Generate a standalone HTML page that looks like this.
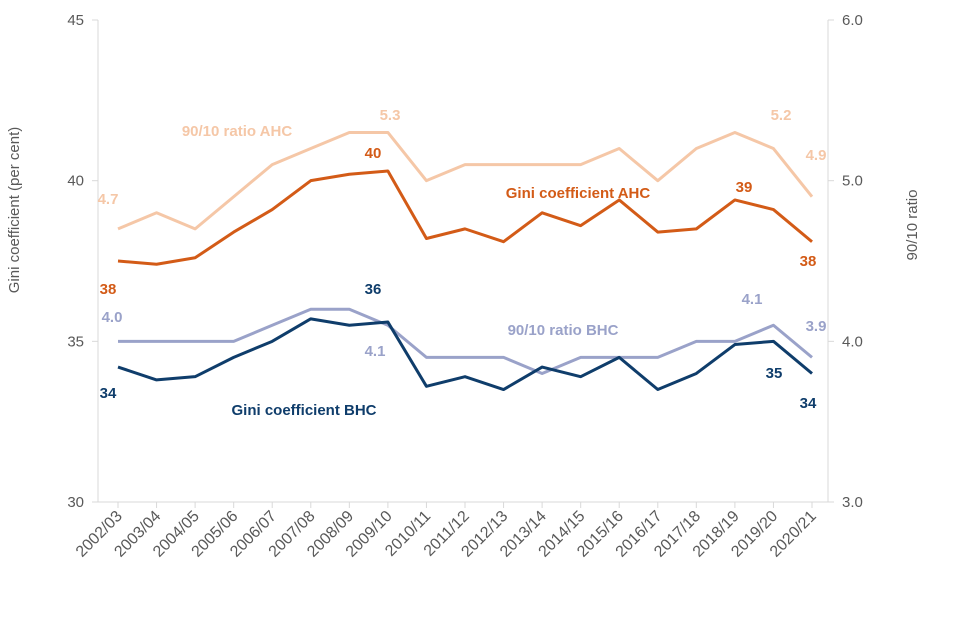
<!DOCTYPE html>
<html><head><meta charset="utf-8"><style>
body{margin:0;background:#fff;}
svg{display:block;font-family:"Liberation Sans",Arial,sans-serif;}
</style></head><body>
<svg id="chart" width="960" height="640"></svg>
<script>
const categories=["2002/03","2003/04","2004/05","2005/06","2006/07","2007/08","2008/09","2009/10","2010/11","2011/12","2012/13","2013/14","2014/15","2015/16","2016/17","2017/18","2018/19","2019/20","2020/21"];
const giniAHC=[37.5,37.4,37.6,38.4,39.1,40.0,40.2,40.3,38.2,38.5,38.1,39.0,38.6,39.4,38.4,38.5,39.4,39.1,38.1];
const giniBHC=[34.2,33.8,33.9,34.5,35.0,35.7,35.5,35.6,33.6,33.9,33.5,34.2,33.9,34.5,33.5,34.0,34.9,35.0,34.0];
const ratioAHC=[4.7,4.8,4.7,4.9,5.1,5.2,5.3,5.3,5.0,5.1,5.1,5.1,5.1,5.2,5.0,5.2,5.3,5.2,4.9];
const ratioBHC=[4.0,4.0,4.0,4.0,4.1,4.2,4.2,4.1,3.9,3.9,3.9,3.8,3.9,3.9,3.9,4.0,4.0,4.1,3.9];
const leftTicks=[30,35,40,45];
const rightTicks=[3.0,4.0,5.0,6.0];

const NS="http://www.w3.org/2000/svg";
const svg=document.getElementById('chart');
const X0=118,X1=812,TOP=20,BOT=502;
const xs=i=>X0+(X1-X0)*i/(categories.length-1);
const yL=v=>BOT-(v-30)/15*(BOT-TOP);
const yR=v=>BOT-(v-3)/3*(BOT-TOP);
function mk(tag,attrs,parent){const e=document.createElementNS(NS,tag);for(const k in attrs)e.setAttribute(k,attrs[k]);(parent||svg).appendChild(e);return e;}
function txt(x,y,s,attrs){const t=mk('text',Object.assign({x:x,y:y},attrs));t.textContent=s;return t;}

const ax=mk('line',{x1:98,y1:TOP,x2:98,y2:BOT,stroke:'#d9d9d9','stroke-width':1});

const ax2=mk('line',{x1:828,y1:TOP,x2:828,y2:BOT,stroke:'#d9d9d9','stroke-width':1});

const ax3=mk('line',{x1:98,y1:BOT,x2:828,y2:BOT,stroke:'#d9d9d9','stroke-width':1});


leftTicks.forEach(v=>{
  mk('line',{x1:92,y1:yL(v),x2:98,y2:yL(v),stroke:'#d9d9d9'});
  const t=txt(84,yL(v)+5,String(v),{'text-anchor':'end','font-size':15,fill:'#595959'});
  
});
rightTicks.forEach(v=>{
  mk('line',{x1:828,y1:yR(v),x2:834,y2:yR(v),stroke:'#d9d9d9'});
  const t=txt(842,yR(v)+5,v.toFixed(1),{'font-size':15,fill:'#595959'});
  
});
categories.forEach((c,i)=>{
  mk('line',{x1:xs(i),y1:BOT,x2:xs(i),y2:BOT+6,stroke:'#d9d9d9'});
  const t=txt(xs(i)+5,BOT+15,c,{'text-anchor':'end','font-size':16,fill:'#595959',transform:`rotate(-45 ${xs(i)+5} ${BOT+15})`});
  
});
const lt=txt(0,0,'Gini coefficient (per cent)',{'text-anchor':'middle','font-size':15,fill:'#595959',transform:'translate(19,210) rotate(-90)'});

const rt=txt(0,0,'90/10 ratio',{'text-anchor':'middle','font-size':15,fill:'#595959',transform:'translate(917,225) rotate(-90)'});


function line(vals,yf,color,name){
  const p=mk('polyline',{points:vals.map((v,i)=>xs(i)+','+yf(v)).join(' '),fill:'none',stroke:color,'stroke-width':3,'stroke-linejoin':'round'});
  
}
line(ratioAHC,yR,'#f5c7a7','ratio-ahc-line');
line(ratioBHC,yR,'#9aa2c9','ratio-bhc-line');
line(giniAHC,yL,'#d35b17','gini-ahc-line');
line(giniBHC,yL,'#0f3d6b','gini-bhc-line');

function lbl(x,y,s,color,name){const t=txt(x,y,s,{'text-anchor':'middle','font-size':15,'font-weight':'bold',fill:color});}
lbl(108,204,'4.7','#f5c7a7','ratio-ahc-label');
lbl(390,120,'5.3','#f5c7a7','ratio-ahc-label');
lbl(781,120,'5.2','#f5c7a7','ratio-ahc-label');
lbl(816,160,'4.9','#f5c7a7','ratio-ahc-label');
lbl(237,136,'90/10 ratio AHC','#f5c7a7','ratio-ahc-name');
lbl(373,158,'40','#d35b17','gini-ahc-label');
lbl(744,192,'39','#d35b17','gini-ahc-label');
lbl(108,294,'38','#d35b17','gini-ahc-label');
lbl(808,266,'38','#d35b17','gini-ahc-label');
lbl(578,198,'Gini coefficient AHC','#d35b17','gini-ahc-name');
lbl(112,322,'4.0','#9aa2c9','ratio-bhc-label');
lbl(375,356,'4.1','#9aa2c9','ratio-bhc-label');
lbl(752,304,'4.1','#9aa2c9','ratio-bhc-label');
lbl(816,331,'3.9','#9aa2c9','ratio-bhc-label');
lbl(563,335,'90/10 ratio BHC','#9aa2c9','ratio-bhc-name');
lbl(373,294,'36','#0f3d6b','gini-bhc-label');
lbl(108,398,'34','#0f3d6b','gini-bhc-label');
lbl(774,378,'35','#0f3d6b','gini-bhc-label');
lbl(808,408,'34','#0f3d6b','gini-bhc-label');
lbl(304,415,'Gini coefficient BHC','#0f3d6b','gini-bhc-name');
</script>
</body></html>
